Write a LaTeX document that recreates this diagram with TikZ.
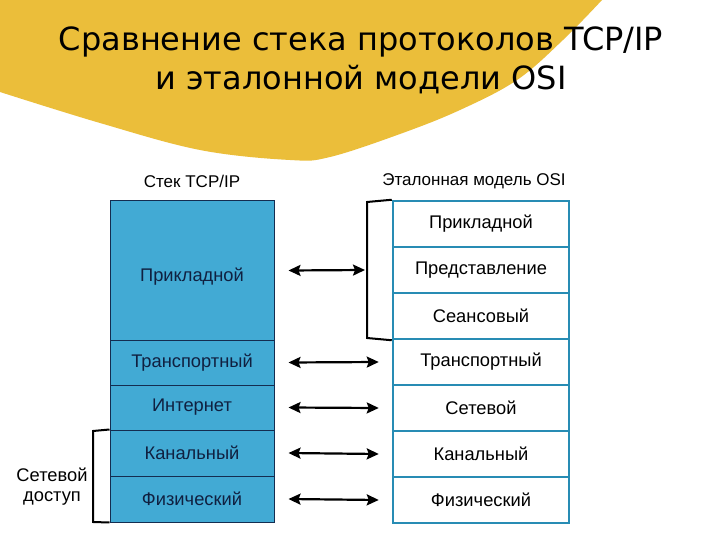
\documentclass[tikz,border=0pt]{standalone}
\usepackage{fontspec}
\setmainfont{Liberation Sans}
\newfontfamily\titlefont{DejaVu Sans}
\usetikzlibrary{arrows.meta}
\definecolor{ylw}{RGB}{235,190,58}
\definecolor{lblue}{RGB}{66,170,212}
\definecolor{lline}{RGB}{20,45,80}
\definecolor{ltext}{RGB}{16,32,64}
\definecolor{tealb}{RGB}{40,140,180}
\tikzset{
  txt/.style={font=\fontsize{18.3}{21}\selectfont},
  tcpbox/.style={draw=lline, line width=1pt, fill=lblue, text=ltext, minimum width=164pt, inner sep=0pt, txt},
  osibox/.style={draw=tealb, line width=2.5pt, fill=white, text=black, minimum width=176pt, minimum height=46pt, inner sep=0pt, txt},
  hdr/.style={font=\fontsize{17}{20}\selectfont, text=black},
  brk/.style={draw=black, line width=2pt},
  biarrow/.style={draw=black, line width=2.2pt, {Stealth[length=12pt,width=11pt,inset=2pt]}-{Stealth[length=12pt,width=11pt,inset=2pt]}}
}
\begin{document}
\begin{tikzpicture}[x=1pt,y=-1pt]
\useasboundingbox (0,0) rectangle (720,540);
\fill[white] (0,0) rectangle (720,540);
% yellow shape
\fill[ylw] (0,0) -- plot[smooth, tension=0.6] coordinates {(0,92) (100,123) (200,150) (290,160) (330,157) (400,134) (460,110) (517,80) (563,40) (602,0)} -- cycle;
% title
\node[font=\titlefont\fontsize{32}{39}\selectfont, align=center, text=black] (title) at (361,60) {Сравнение стека протоколов TCP/IP\\и эталонной модели OSI};
% headers
\node[hdr] (hl) at (192,181) {Стек TCP/IP};
\node[hdr] (hr) at (474,181) {Эталонная модель OSI};
% left stack
\node[tcpbox, minimum height=139pt] (L1) at (192,270.5) {};
\node[txt, text=ltext] (L1t) at (192,277) {Прикладной};
\node[tcpbox, minimum height=45pt] (L2) at (192,362.5) {Транспортный};
\node[tcpbox, minimum height=45pt] (L3) at (192,407.5) {Интернет};
\node[tcpbox, minimum height=46pt] (L4) at (192,453) {Канальный};
\node[tcpbox, minimum height=46pt] (L5) at (192,499) {Физический};
% right stack
\node[osibox] (R1) at (481,224) {Прикладной};
\node[osibox] (R2) at (481,270) {Представление};
\node[osibox] (R3) at (481,316) {Сеансовый};
\node[osibox] (R4) at (481,362) {Транспортный};
\node[osibox] (R5) at (481,408) {Сетевой};
\node[osibox] (R6) at (481,454) {Канальный};
\node[osibox] (R7) at (481,500) {Физический};
% right bracket
\coordinate (rb1) at (367,202);
\coordinate (rb2) at (367,338);
\draw[brk] (R1.north west) -- (rb1) -- (rb2) -- (R3.south west);
% left bracket
\coordinate (lb1) at (93,431);
\coordinate (lb2) at (93,522);
\draw[brk] (L4.north west) -- (lb1) -- (lb2) -- (L5.south west);
\node[font=\fontsize{18.3}{20}\selectfont, align=center] (net) at (52,487) {Сетевой\\доступ};
% arrows
\draw[biarrow] ([xshift=14pt]L1.east) -- ([xshift=-2pt]rb1 |- R2.west);
\draw[biarrow] ([xshift=14pt]L2.east) -- ([xshift=-13pt]R4.west);
\draw[biarrow] ([xshift=14pt]L3.east) -- ([xshift=-13pt]R5.west);
\draw[biarrow] ([xshift=14pt]L4.east) -- ([xshift=-13pt]R6.west);
\draw[biarrow] ([xshift=14pt]L5.east) -- ([xshift=-13pt]R7.west);
\end{tikzpicture}
\end{document}
